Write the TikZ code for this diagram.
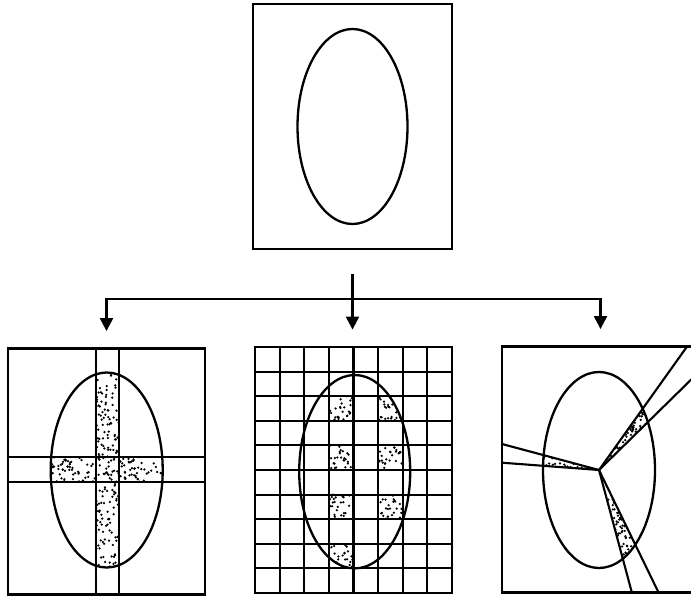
\documentclass[tikz,border=0pt]{standalone}
\usetikzlibrary{arrows.meta,positioning,calc}
\newcommand{\pxl}{0.035cm}
% random stipple over a box: x0, y0, width, height, count
\newcommand{\stipple}[5]{%
  \foreach \k in {1,...,#5}
    \fill ({#1+rnd*#3},{#2+rnd*#4}) circle (1.25);}

\begin{document}
\begin{tikzpicture}[x=\pxl,y=-\pxl,>={Triangle[width=13pt,length=13pt]},
  panel/.style={draw,line width=2.7pt,inner sep=0pt,
    minimum width=197*\pxl,minimum height=246*\pxl},
  outline/.style={line width=2.3pt},
  cut/.style={line width=2.1pt},
  feed/.style={line width=2.3pt,->,shorten >=16pt}]
\useasboundingbox (0,0) rectangle (691,596);
\pgfmathsetseed{11}
% frames
\node[panel,minimum width=199*\pxl,minimum height=245*\pxl] (orig) at (352.5,126.5) {};
\node[panel] (bands) at (106.5,471.5) {};
\node[panel] (grid) at (353.5,470) {};
\node[panel] (sectors) at (600.5,469.5) {};
\draw[outline] (orig.center) ellipse [x radius=55,y radius=97.5];

% left: two strips
\begin{scope}
\clip (106.7,470) ellipse [x radius=56,y radius=97.5];
\clip (95.7,347) rectangle (119,596) (0,457.3) rectangle (210,481.7);
\stipple{50}{372}{114}{197}{850}
\end{scope}
\foreach \x in {95.7,119} \draw[cut] (\x,348) -- (\x,595);
\foreach \y in {457.3,481.7} \draw[cut] (8,\y) -- (205,\y);
\draw[outline] (106.7,470) ellipse [x radius=56,y radius=97.5];

% middle: grid
\begin{scope}
\clip (354.7,471.7) ellipse [x radius=55.5,y radius=96.7];
\foreach \c/\r in {3/2,3/4,3/6,3/8,5/2,5/4,5/6}{
  \stipple{255+\c*24.625}{347+\r*24.6}{24.6}{24.6}{26}}
\end{scope}
\foreach \i in {1,...,7} \draw[cut] ({255+\i*24.625},347) -- ({255+\i*24.625},593);
\foreach \j in {1,...,9} \draw[cut] (255,{347+\j*24.6}) -- (452,{347+\j*24.6});
\draw[outline] (354.7,471.7) ellipse [x radius=55.5,y radius=96.7];

% right: sectors
\coordinate (hub) at (599,470);
\begin{scope}
\clip (hub) ellipse [x radius=56,y radius=98];
\clip (hub) -- (686.7,347) -- (705,366) -- cycle
  (hub) -- (502,444) -- (502,462.7) -- cycle
  (hub) -- (631.7,592) -- (658.3,592) -- cycle;
\stipple{543}{372}{112}{196}{1500}
\end{scope}
\foreach \x/\y in {686.7/347,705/366,502/444,502/462.7,631.7/592,658.3/592}
  \draw[cut] (hub) -- (\x,\y);
\draw[outline] (hub) ellipse [x radius=56,y radius=98];

% arrows
\coordinate (stem) at ([yshift=-24pt]orig.south);
\coordinate (fork) at (353,299);
\draw[feed] (stem) -- (stem |- grid.north);
\draw[feed,<->,shorten <=16pt] (bands.north) -- (bands.north |- fork)
  -- (sectors.north |- fork) -- (sectors.north);
\end{tikzpicture}
\end{document}
